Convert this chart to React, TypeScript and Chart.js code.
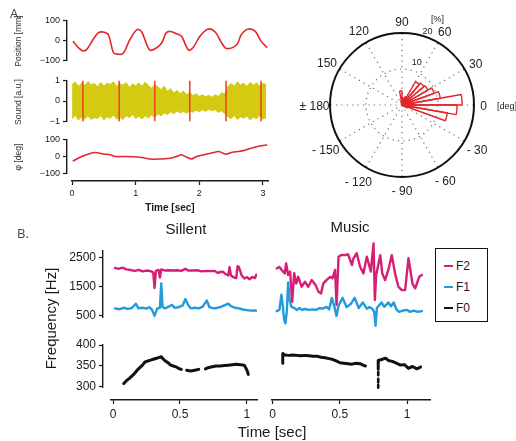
import React, { useEffect, useRef } from 'react';
import { Chart, registerables } from 'chart.js';

Chart.register(...registerables);
const FONT = "'Liberation Sans', Arial, Helvetica, sans-serif";
Chart.defaults.font.family = FONT;

// ---------------- Panel A data ----------------
const TIME_TICKS_A = [0, 1, 2, 3];
const POS_TICKS = [-100, 0, 100];
const SOUND_TICKS = [-1, 0, 1];
const PHI_TICKS = [-100, 0, 100];

const POSITION_T = [0.02, 0.10, 0.17, 0.23, 0.33, 0.41, 0.49, 0.57, 0.65, 0.72, 0.80, 0.91, 1.02, 1.09, 1.22, 1.33, 1.41, 1.48, 1.55, 1.64, 1.72, 1.83, 1.90, 2.01, 2.14, 2.25, 2.35, 2.43, 2.59, 2.66, 2.77, 2.88, 2.97, 3.06];
const POSITION_MM = [-6, -36, -52, -44, 5, 38, 42, 29, -60, -68, -65, 5, 54, 45, -47, -36, -11, 38, 45, 34, 21, -47, -36, 21, 57, 42, -11, -40, -20, 29, 57, 45, -3, -33];

const SOUND_T = [0.00, 0.05, 0.10, 0.15, 0.20, 0.25, 0.30, 0.35, 0.40, 0.45, 0.50, 0.55, 0.60, 0.65, 0.70, 0.75, 0.80, 0.85, 0.90, 0.95, 1.00, 1.05, 1.10, 1.15, 1.20, 1.25, 1.30, 1.35, 1.40, 1.45, 1.50, 1.55, 1.60, 1.65, 1.70, 1.75, 1.80, 1.85, 1.90, 1.95, 2.00, 2.05, 2.10, 2.15, 2.20, 2.25, 2.30, 2.35, 2.40, 2.45, 2.50, 2.55, 2.60, 2.65, 2.70, 2.75, 2.80, 2.85, 2.90, 2.95, 3.00, 3.05];
const SOUND_UPPER = [0.80, 0.92, 0.70, 0.88, 0.75, 0.95, 0.78, 0.85, 0.68, 0.90, 0.72, 0.86, 0.80, 0.93, 0.70, 0.84, 0.76, 0.90, 0.66, 0.82, 0.74, 0.88, 0.70, 0.92, 0.75, 0.62, 0.80, 0.68, 0.55, 0.72, 0.45, 0.60, 0.38, 0.52, 0.35, 0.48, 0.30, 0.42, 0.25, 0.35, 0.22, 0.30, 0.20, 0.28, 0.18, 0.30, 0.22, 0.40, 0.35, 0.70, 0.85, 0.72, 0.92, 0.78, 0.86, 0.70, 0.90, 0.76, 0.88, 0.72, 0.85, 0.80];
const SOUND_LOWER = [-0.85, -0.70, -0.92, -0.78, -0.88, -0.72, -0.90, -0.80, -0.86, -0.70, -0.92, -0.76, -0.84, -0.68, -0.88, -0.78, -0.90, -0.72, -0.80, -0.66, -0.85, -0.74, -0.88, -0.70, -0.82, -0.68, -0.80, -0.62, -0.72, -0.58, -0.66, -0.52, -0.62, -0.48, -0.58, -0.50, -0.60, -0.46, -0.55, -0.44, -0.52, -0.42, -0.50, -0.40, -0.48, -0.42, -0.55, -0.48, -0.62, -0.75, -0.86, -0.70, -0.90, -0.76, -0.84, -0.72, -0.92, -0.78, -0.86, -0.70, -0.88, -0.80];
const SOUND_MARK_T = [0.17, 0.74, 1.30, 1.85, 2.42, 2.97];

const PHI_T = [0.02, 0.15, 0.26, 0.36, 0.49, 0.60, 0.68, 0.86, 1.07, 1.22, 1.38, 1.54, 1.64, 1.72, 1.80, 1.88, 1.96, 2.07, 2.18, 2.31, 2.42, 2.52, 2.62, 2.73, 2.84, 2.95, 3.06];
const PHI_DEG = [-25, 0, 15, 23, 15, 10, 0, 0, -4, -15, -15, -10, 0, 10, -4, -15, 0, 10, 19, 29, 13, 25, 29, 38, 51, 61, 67];

// Rose histogram (angle bin start in deg, percent)
const ROSE_BIN_START = [-40, -30, -20, -10, 0, 10, 20, 30, 40, 50, 60, 70, 80, 90, 100];
const ROSE_PERCENT = [0.5, 1.5, 12.8, 15.3, 16.7, 10.8, 9.5, 8.3, 8.0, 7.5, 2.5, 1.5, 2.0, 3.9, 1.0];
const POLAR_ANGLES = [0, 30, 60, 90, 120, 150, 180, 210, 240, 270, 300, 330];
const POLAR_ANGLE_LABELS = ['0', '30', '60', '90', '120', '150', '\u00b1 180', '- 150', '- 120', '- 90', '- 60', '- 30'];
const POLAR_RINGS = [10];
const POLAR_RMAX = 20;
const POLAR_RING_LABELS = [10, 20];

// ---------------- Panel B data ----------------
const TIME_TICKS_B = [0, 0.5, 1];
const FORMANT_TICKS = [500, 1500, 2500];
const F0_TICKS = [300, 350, 400];

const SILENT_F2: [number, number][] = [[0.015, 2150], [0.04, 2120], [0.07, 2160], [0.10, 2100], [0.13, 2080], [0.16, 2050], [0.19, 2080], [0.22, 2030], [0.25, 2060], [0.28, 2040], [0.30, 2000], [0.31, 1460], [0.32, 2050], [0.34, 2080], [0.35, 1820], [0.36, 2100], [0.39, 2060], [0.42, 2070], [0.45, 2060], [0.48, 2070], [0.51, 2050], [0.54, 2120], [0.56, 2060], [0.60, 2060], [0.63, 2070], [0.66, 2030], [0.70, 2050], [0.73, 2040], [0.76, 2050], [0.78, 1980], [0.80, 2010], [0.82, 2020], [0.84, 1940], [0.86, 1890], [0.87, 2180], [0.88, 1900], [0.90, 1830], [0.92, 1800], [0.93, 2210], [0.94, 2180], [0.96, 1900], [0.98, 1790], [1.00, 1830], [1.02, 1760], [1.04, 1840], [1.06, 1800], [1.07, 1920]];
const SILENT_F1: [number, number][] = [[0.015, 760], [0.05, 730], [0.08, 780], [0.11, 740], [0.14, 770], [0.17, 920], [0.19, 760], [0.22, 780], [0.25, 750], [0.27, 800], [0.29, 720], [0.31, 500], [0.33, 760], [0.35, 780], [0.36, 1620], [0.37, 800], [0.39, 760], [0.42, 830], [0.44, 880], [0.46, 780], [0.49, 800], [0.52, 860], [0.54, 1080], [0.56, 880], [0.58, 760], [0.61, 780], [0.64, 760], [0.67, 820], [0.70, 1030], [0.72, 800], [0.75, 760], [0.78, 780], [0.81, 820], [0.84, 880], [0.86, 920], [0.88, 840], [0.91, 780], [0.94, 760], [0.97, 720], [1.00, 700], [1.03, 680], [1.06, 690], [1.07, 680]];
const SILENT_F0: [number, number | null][] = [[0.08, 308], [0.10, 315], [0.12, 320], [0.14, 326], [0.16, 332], [0.18, 340], [0.20, 346], [0.22, 352], [0.24, 360], [0.26, 362], [0.28, 364], [0.30, 366], [0.32, 368], [0.34, 370], [0.36, 372], [0.37, 368], [0.39, 362], [0.41, 358], [0.43, 352], [0.45, 350], [0.47, 348], [0.49, 344], [0.51, 342], [0.53, null], [0.55, 340], [0.58, 338], [0.61, 340], [0.64, 342], [0.66, null], [0.69, 343], [0.71, 346], [0.74, 348], [0.77, 350], [0.80, 350], [0.83, 351], [0.86, 352], [0.89, 353], [0.92, 354], [0.95, 353], [0.98, 352], [1.00, 340], [1.01, 330]];

const MUSIC_F2: [number, number][] = [[0.03, 2100], [0.05, 2150], [0.067, 2050], [0.09, 1940], [0.10, 2265], [0.115, 1890], [0.13, 2000], [0.145, 1025], [0.16, 1950], [0.175, 1610], [0.19, 1830], [0.215, 1510], [0.24, 1670], [0.265, 1510], [0.29, 1725], [0.32, 1560], [0.34, 1350], [0.36, 1295], [0.377, 1620], [0.40, 1725], [0.427, 1830], [0.445, 1780], [0.464, 2050], [0.475, 920], [0.49, 2480], [0.51, 2535], [0.54, 2530], [0.56, 2560], [0.59, 2210], [0.60, 2420], [0.625, 2590], [0.65, 2155], [0.675, 1940], [0.70, 2480], [0.73, 2000], [0.75, 2910], [0.76, 1080], [0.77, 1900], [0.80, 2530], [0.815, 1940], [0.836, 1725], [0.86, 2050], [0.886, 2530], [0.91, 1940], [0.935, 1510], [0.96, 1400], [0.985, 1400], [1.01, 2430], [1.04, 1600], [1.06, 1460], [1.09, 1830], [1.11, 1890]];
const MUSIC_F1: [number, number][] = [[0.03, 720], [0.05, 760], [0.065, 1250], [0.075, 900], [0.085, 450], [0.095, 330], [0.105, 700], [0.115, 1650], [0.125, 1100], [0.14, 860], [0.16, 820], [0.18, 760], [0.20, 820], [0.22, 760], [0.24, 790], [0.27, 760], [0.30, 780], [0.32, 760], [0.35, 820], [0.37, 800], [0.40, 860], [0.42, 780], [0.44, 1150], [0.46, 850], [0.475, 560], [0.49, 900], [0.52, 1150], [0.55, 850], [0.58, 950], [0.61, 1150], [0.64, 820], [0.67, 1000], [0.70, 800], [0.72, 850], [0.74, 800], [0.755, 700], [0.765, 250], [0.775, 820], [0.79, 900], [0.81, 1000], [0.83, 860], [0.86, 1000], [0.88, 880], [0.90, 1000], [0.92, 780], [0.94, 700], [0.97, 740], [1.00, 760], [1.02, 700], [1.05, 740], [1.08, 700], [1.11, 720]];
const MUSIC_F0: [number, number | null][] = [[0.075, 356], [0.075, 377], [0.09, 374], [0.12, 373], [0.15, 374], [0.18, 373], [0.21, 372], [0.24, 373], [0.27, 372], [0.30, 371], [0.33, 371], [0.36, 369], [0.39, 368], [0.42, 366], [0.45, 364], [0.48, 360], [0.50, 357], [0.53, 356], [0.56, 355], [0.59, 354], [0.62, 356], [0.65, 355], [0.68, 351], [0.69, 350], [0.74, null], [0.785, 343], [0.785, 362], [0.81, 364], [0.84, 367], [0.86, 362], [0.89, 360], [0.92, 356], [0.95, 352], [0.98, 353], [1.01, 345], [1.04, 349], [1.07, 344], [1.09, 346], [1.10, 348]];
const MUSIC_F0_DOTS: [number, number | null][] = [[0.785, 337], [0.785, 330], [0.785, null], [0.785, 322], [0.785, 315], [0.785, null], [0.785, 309], [0.785, 303]];

// ---------------- colours ----------------
const RED = '#e3262d';
const YELLOW = 'rgb(212,202,18)';
const MARK_RED = 'rgb(232,72,30)';
const C_F2 = 'rgb(214,30,118)';
const C_F1 = 'rgb(34,154,220)';
const C_F0 = '#111111';
const INK = '#1a1a1a';

// ---------------- helpers ----------------
type Area = { l: number; t: number; r: number; b: number };
type Spec = { left: number; top: number; width: number; height: number; make: (padding: any) => any; padding: any };

function place(area: Area, yW: number, xH: number, make: (p: any) => any, pt = 8, pb = 8): Spec {
  const pr = 10;
  const pl = yW ? 0 : 10;
  const bottom = xH ? 0 : pb;
  return {
    left: area.l - yW - pl,
    top: area.t - pt,
    width: area.r - area.l + yW + pl + pr,
    height: area.b - area.t + pt + bottom + xH,
    padding: { top: pt, right: pr, bottom, left: pl },
    make,
  };
}

const fmtNum = (v: number) => (v < 0 ? '\u2212' + Math.abs(v) : String(v));

function yAxis(min: number, max: number, ticks: number[], width: number, size: number) {
  return {
    type: 'linear', position: 'left', min, max,
    afterBuildTicks: (s: any) => { s.ticks = ticks.map((v) => ({ value: v })); },
    afterFit: (s: any) => { s.width = width; },
    grid: { display: true, drawOnChartArea: false, drawTicks: true, tickLength: 4, tickWidth: 1.2, color: INK },
    border: { display: true, color: INK, width: 1.4 },
    ticks: { autoSkip: false, padding: 3, color: INK, font: { size }, callback: (v: any) => fmtNum(Number(v)) },
    title: { display: false },
  };
}

function xAxis(min: number, max: number, ticks: number[], height: number, size: number, title?: string) {
  return {
    type: 'linear', position: 'bottom', min, max,
    afterBuildTicks: (s: any) => { s.ticks = ticks.map((v) => ({ value: v })); },
    afterFit: (s: any) => { s.height = height; },
    grid: { display: true, drawOnChartArea: false, drawTicks: true, tickLength: 4, tickWidth: 1.2, color: INK },
    border: { display: true, color: INK, width: 1.4 },
    ticks: { autoSkip: false, maxRotation: 0, padding: 3, color: INK, font: { size }, callback: (v: any) => String(v) },
    title: title ? { display: true, text: title, padding: 0, color: INK, font: { size: 10, weight: 'bold' } } : { display: false },
  };
}

const hidden = (min: number, max: number) => ({ type: 'linear', display: false, min, max });

const zip = (xs: number[], ys: number[]) => xs.map((x, i) => ({ x, y: ys[i] }));
const pairs = (p: [number, number | null][]) => p.map(([x, y]) => ({ x, y }));

function ds(data: any[], color: string, width: number, extra: any = {}) {
  return { data, borderColor: color, backgroundColor: color, borderWidth: width, pointRadius: 0, tension: 0, fill: false, spanGaps: false, borderJoinStyle: 'round', borderCapStyle: 'round', ...extra };
}

function lineCfg(datasets: any[], scales: any, padding: any) {
  return {
    type: 'line',
    data: { datasets },
    options: {
      responsive: false, animation: false, events: [],
      layout: { padding },
      plugins: { legend: { display: false }, tooltip: { enabled: false }, title: { display: false } },
      scales,
    },
  };
}

// ---------------- polar decoration plugin ----------------
const polarDecor = {
  id: 'polarDecor',
  beforeDatasetsDraw(chart: any) {
    const s = chart.scales.r;
    const ctx = chart.ctx;
    const cx = s.xCenter, cy = s.yCenter;
    const R = s.getDistanceFromCenterForValue(POLAR_RMAX);
    ctx.save();
    ctx.strokeStyle = '#6a6a6a';
    ctx.lineWidth = 1.2;
    ctx.setLineDash([1.2, 4.2]);
    POLAR_RINGS.forEach((v) => {
      ctx.beginPath();
      ctx.arc(cx, cy, s.getDistanceFromCenterForValue(v), 0, Math.PI * 2);
      ctx.stroke();
    });
    POLAR_ANGLES.forEach((a) => {
      const th = (a * Math.PI) / 180;
      ctx.beginPath();
      ctx.moveTo(cx, cy);
      ctx.lineTo(cx + R * Math.cos(th), cy - R * Math.sin(th));
      ctx.stroke();
    });
    ctx.setLineDash([]);
    ctx.strokeStyle = '#111';
    ctx.lineWidth = 2;
    ctx.beginPath();
    ctx.arc(cx, cy, R, 0, Math.PI * 2);
    ctx.stroke();
    ctx.restore();
  },
  afterDraw(chart: any) {
    const s = chart.scales.r;
    const ctx = chart.ctx;
    const cx = s.xCenter, cy = s.yCenter;
    const R = s.getDistanceFromCenterForValue(POLAR_RMAX);
    ctx.save();
    ctx.fillStyle = '#222';
    ctx.textAlign = 'center';
    ctx.textBaseline = 'middle';
    ctx.font = `12px ${FONT}`;
    POLAR_ANGLES.forEach((a, i) => {
      const th = (a * Math.PI) / 180;
      const txt = POLAR_ANGLE_LABELS[i];
      const w = ctx.measureText(txt).width;
      const r = R + 8 + 0.25 * w * Math.abs(Math.cos(th)) + 4.5 * Math.abs(Math.sin(th));
      ctx.fillText(txt, cx + r * Math.cos(th), cy - r * Math.sin(th) + 2);
    });
    ctx.font = `9px ${FONT}`;
    const la = (71 * Math.PI) / 180;
    let lastX = 0, lastY = 0;
    POLAR_RING_LABELS.forEach((v) => {
      const r = s.getDistanceFromCenterForValue(v) * 0.92 + 12;
      lastX = cx + r * Math.cos(la);
      lastY = cy - r * Math.sin(la);
      ctx.fillText(String(v), lastX, lastY);
    });
    ctx.fillText('[%]', lastX + 10, lastY - 12);
    ctx.textAlign = 'left';
    ctx.fillText('[deg]', cx + R + 23, cy + 2);
    ctx.restore();
  },
};

// ---------------- chart specs ----------------
const AX_MIN = -0.08, AX_MAX = 3.08;
const BL_MIN = -0.075, BL_MAX = 1.075;
const BR_MIN = -0.005, BR_MAX = 1.17;
const FR_MIN = 435, FR_MAX = 2760;
const F0_MIN = 298, F0_MAX = 402;

const specs: Spec[] = [
  // A: position
  place({ l: 67, t: 20, r: 268, b: 61 }, 54, 0, (p) => lineCfg(
    [ds(zip(POSITION_T, POSITION_MM), RED, 1.6, { tension: 0.35 })],
    { x: hidden(AX_MIN, AX_MAX), y: yAxis(-100, 100, POS_TICKS, 54, 9) }, p)),
  // A: sound
  place({ l: 67, t: 80, r: 268, b: 122 }, 54, 0, (p) => lineCfg(
    [
      ds(zip(SOUND_T, SOUND_UPPER), YELLOW, 1, { fill: '+1', backgroundColor: YELLOW }),
      ds(zip(SOUND_T, SOUND_LOWER), YELLOW, 1),
      ds(SOUND_MARK_T.flatMap((t) => [{ x: t, y: -1 }, { x: t, y: 1 }, { x: t, y: null }]), MARK_RED, 1.6, { order: -1, borderCapStyle: 'butt' }),
    ],
    { x: hidden(AX_MIN, AX_MAX), y: yAxis(-1, 1, SOUND_TICKS, 54, 9) }, p)),
  // A: phi
  place({ l: 67, t: 139, r: 268, b: 174 }, 54, 0, (p) => lineCfg(
    [ds(zip(PHI_T, PHI_DEG), RED, 1.6, { tension: 0.2 })],
    { x: hidden(AX_MIN, AX_MAX), y: yAxis(-100, 100, PHI_TICKS, 54, 9) }, p)),
  // A: time axis
  place({ l: 72, t: 179, r: 268, b: 181 }, 0, 33, (p) => lineCfg(
    [],
    { x: xAxis(0, 3.08, TIME_TICKS_A, 33, 9, 'Time [sec]'), y: hidden(0, 1) }, p)),

  // B left: formants
  place({ l: 103, t: 248, r: 257, b: 320 }, 40, 0, (p) => lineCfg(
    [ds(pairs(SILENT_F2), C_F2, 2.4), ds(pairs(SILENT_F1), C_F1, 2.4)],
    { x: hidden(BL_MIN, BL_MAX), y: yAxis(FR_MIN, FR_MAX, FORMANT_TICKS, 40, 12) }, p)),
  // B left: F0
  place({ l: 103, t: 342, r: 257, b: 390 }, 40, 0, (p) => lineCfg(
    [ds(pairs(SILENT_F0), C_F0, 3)],
    { x: hidden(BL_MIN, BL_MAX), y: yAxis(F0_MIN, F0_MAX, F0_TICKS, 40, 12) }, p)),
  // B left: time axis
  place({ l: 111, t: 398, r: 257, b: 400 }, 0, 24, (p) => lineCfg(
    [],
    { x: xAxis(-0.015, 1.075, TIME_TICKS_B, 24, 12), y: hidden(0, 1) }, p)),

  // B right: formants
  place({ l: 272, t: 248, r: 430, b: 320 }, 0, 0, (p) => lineCfg(
    [ds(pairs(MUSIC_F2), C_F2, 2.4, { clip: false }), ds(pairs(MUSIC_F1), C_F1, 2.4, { clip: false })],
    { x: hidden(BR_MIN, BR_MAX), y: hidden(FR_MIN, FR_MAX) }, p), 10, 12),
  // B right: F0
  place({ l: 272, t: 342, r: 430, b: 390 }, 0, 0, (p) => lineCfg(
    [ds(pairs(MUSIC_F0), C_F0, 3, { clip: false }), ds(pairs(MUSIC_F0_DOTS), C_F0, 2.6, { clip: false, borderCapStyle: 'butt' })],
    { x: hidden(BR_MIN, BR_MAX), y: hidden(F0_MIN, F0_MAX) }, p)),
  // B right: time axis
  place({ l: 272, t: 398, r: 430, b: 400 }, 0, 24, (p) => lineCfg(
    [],
    { x: xAxis(BR_MIN, BR_MAX, TIME_TICKS_B, 24, 12), y: hidden(0, 1) }, p)),
];

const polarSpec: Spec = {
  left: 290, top: 0, width: 226, height: 220,
  padding: { left: 40, top: 33, right: 42, bottom: 43 },
  make: (p) => {
    const data = new Array(36).fill(0);
    ROSE_BIN_START.forEach((s, k) => {
      const idx = ((((90 - (s + 10)) / 10) % 36) + 36) % 36;
      data[idx] = ROSE_PERCENT[k];
    });
    const labels = data.map((_, i) => `${90 - 10 * (i + 1)}..${90 - 10 * i}`);
    return {
      type: 'polarArea',
      data: { labels, datasets: [{ data, backgroundColor: 'rgba(255,255,255,0)', borderColor: RED, borderWidth: 1.4, borderAlign: 'center' }] },
      options: {
        responsive: false, animation: false, events: [],
        layout: { padding: p },
        plugins: { legend: { display: false }, tooltip: { enabled: false } },
        scales: {
          r: {
            min: 0, max: POLAR_RMAX, startAngle: 0,
            ticks: { display: false },
            grid: { display: false },
            angleLines: { display: false },
            pointLabels: { display: false },
          },
        },
      },
      plugins: [polarDecor],
    };
  },
};

function ChartCanvas({ spec }: { spec: Spec }) {
  const ref = useRef<HTMLCanvasElement>(null);
  useEffect(() => {
    const chart = new Chart(ref.current as HTMLCanvasElement, spec.make(spec.padding));
    return () => chart.destroy();
  }, [spec]);
  return (
    <canvas
      ref={ref}
      width={spec.width}
      height={spec.height}
      style={{ position: 'absolute', left: spec.left, top: spec.top, width: spec.width, height: spec.height }}
    />
  );
}

const txt = (s: any) => ({ position: 'absolute' as const, whiteSpace: 'nowrap' as const, lineHeight: '15px', color: '#1a1a1a', ...s });
const vtitle = (cx: number, cy: number, size: number, color: string, w = 120) =>
  txt({ left: cx - w / 2, top: cy - 5, width: w, height: 10, lineHeight: '10px', textAlign: 'center', fontSize: size, color, transform: 'rotate(-90deg)' });

export default function App() {
  return (
    <div style={{ position: 'absolute', left: 0, top: 0, width: 516, height: 441, overflow: 'hidden', background: '#fff', fontFamily: FONT }}>
      {specs.map((s, i) => <ChartCanvas key={i} spec={s} />)}
      <ChartCanvas spec={polarSpec} />

      <div style={txt({ left: 10, top: 6, fontSize: 13, fontFamily: "'Open Sans', sans-serif", color: '#444' })}>A.</div>
      <div style={txt({ left: 17, top: 226, fontSize: 13, fontFamily: "'Open Sans', sans-serif", color: '#444' })}>B.</div>

      <div style={vtitle(18, 40.5, 8.5, '#333')}>Position [mm]</div>
      <div style={vtitle(18, 102, 8.5, '#333')}>Sound [a.u.]</div>
      <div style={vtitle(18, 157, 8.5, '#333')}>{'\u03c6 [deg]'}</div>

      <div style={txt({ left: 136, top: 221, width: 100, textAlign: 'center', fontSize: 15 })}>Sillent</div>
      <div style={txt({ left: 300, top: 219, width: 100, textAlign: 'center', fontSize: 15 })}>Music</div>
      <div style={txt({ left: 172, top: 424, width: 200, textAlign: 'center', fontSize: 15 })}>Time [sec]</div>
      <div style={txt({ left: -50, top: 311, width: 200, textAlign: 'center', fontSize: 15, transform: 'rotate(-90deg)' })}>Frequency [Hz]</div>

      <div style={{ position: 'absolute', left: 435, top: 248, width: 53, height: 74, boxSizing: 'border-box', border: '1.5px solid #111', background: '#fff' }}>
        {[['F2', C_F2, 17], ['F1', C_F1, 38], ['F0', C_F0, 59]].map(([label, color, y]) => (
          <React.Fragment key={label as string}>
            <div style={{ position: 'absolute', left: 8, top: (y as number) - 1.5, width: 9, height: 2.5, background: color as string }} />
            <div style={txt({ left: 20, top: (y as number) - 7, fontSize: 12 })}>{label}</div>
          </React.Fragment>
        ))}
      </div>
    </div>
  );
}
